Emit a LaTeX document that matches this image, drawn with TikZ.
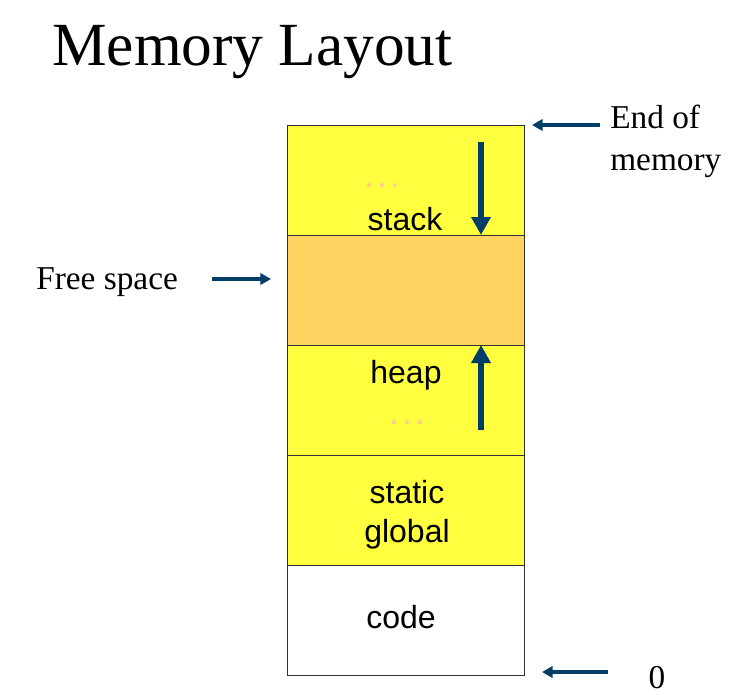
\documentclass[tikz,border=0pt]{standalone}
\usepackage{fontspec}
\setmainfont{Liberation Serif}
\setsansfont{Liberation Sans}
\usetikzlibrary{arrows.meta}
\definecolor{memyellow}{RGB}{255,255,64}
\definecolor{memorange}{RGB}{255,211,96}
\definecolor{arrowblue}{RGB}{0,62,106}
\definecolor{dotcol}{RGB}{255,200,150}
\tikzset{
  seg/.style={draw=black!80, line width=0.9pt, minimum width=237*0.75pt, minimum height=110*0.75pt, inner sep=0pt, anchor=north west},
  segtext/.style={font=\sffamily\fontsize{24}{29}\selectfont, text=black, inner sep=0pt},
  dots/.style={font=\sffamily\fontsize{26}{26}\selectfont, text=dotcol, inner sep=0pt, anchor=base},
  bigarrow/.style={arrowblue, line width=4.5pt, -{Triangle[width=14pt,length=13.5pt]}},
  sidearrow/.style={arrowblue, line width=2.5pt, -{Triangle[width=8.5pt,length=8pt]}},
  lbl/.style={font=\fontsize{25}{31}\selectfont, inner sep=0pt, align=left}
}
\begin{document}
\begin{tikzpicture}[x=0.75pt,y=-0.75pt]
\useasboundingbox (0,0) rectangle (730,694);
% title
\node[anchor=base west, inner sep=0pt, font=\fontsize{46}{50}\selectfont] (title) at (52,65) {Memory Layout};
% segments
\node[seg, fill=memyellow] (stack) at (287,125) {};
\node[seg, fill=memorange] (free) at (287,235) {};
\node[seg, fill=memyellow] (heap) at (287,345) {};
\node[seg, fill=memyellow] (static) at (287,455) {};
\node[seg, fill=white] (code) at (287,565) {};
% texts
\node[segtext] (stacktxt) at (405,219) {stack};
\node[dots] (stackdots) at (382,187) {.\hspace{2.5pt}.\hspace{2.5pt}.};
\node[segtext] (heaptxt) at (406,375) {heap};
\node[dots] (heapdots) at (407,424) {.\hspace{2.5pt}.\hspace{2.5pt}.};
\node[segtext, align=center] (statictxt) at (407,515) {static\\global};
\node[segtext] (codetxt) at (401,617) {code};
% growth arrows
\coordinate (sa1) at (481,142);
\coordinate (sa2) at (481,235);
\coordinate (ha1) at (481,430);
\coordinate (ha2) at (481,345);
\draw[bigarrow] (sa1) -- (sa2);
\draw[bigarrow] (ha1) -- (ha2);
% side labels
\node[lbl, anchor=north west] (endmem) at (610,105) {End of\\memory};
\coordinate (em1) at (600,125);
\coordinate (em2) at (532,125);
\draw[sidearrow] (em1) -- (em2);
\node[lbl, anchor=west] (freetxt) at (36,282) {Free space};
\coordinate (fs1) at (212,279);
\coordinate (fs2) at (271,279);
\draw[sidearrow] (fs1) -- (fs2);
\node[lbl, anchor=base] (zero) at (657,688) {0};
\coordinate (z1) at (608,672);
\coordinate (z2) at (542,672);
\draw[sidearrow] (z1) -- (z2);
\end{tikzpicture}
\end{document}
